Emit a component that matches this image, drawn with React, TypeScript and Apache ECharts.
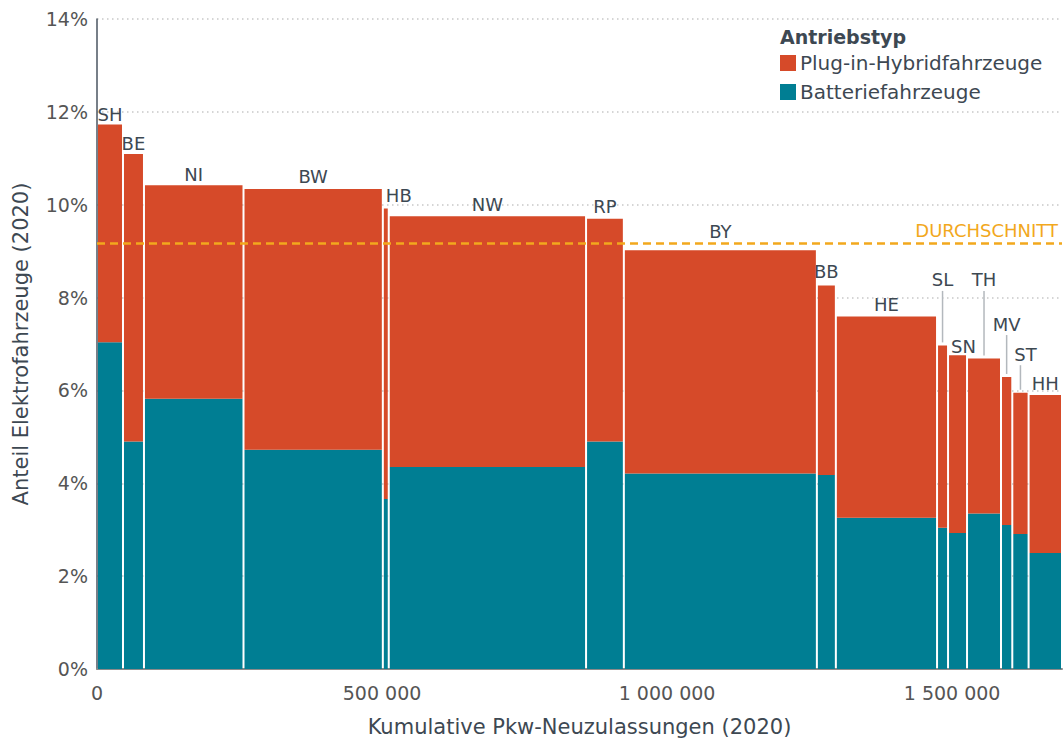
import React, { useEffect, useRef } from "react";
import * as echarts from "echarts";

// Bundesländer (abbreviations), in chart order
const states = ["SH", "BE", "NI", "BW", "HB", "NW", "RP", "BY", "BB", "HE", "SL", "SN", "TH", "MV", "ST", "HH"];
// Pkw-Neuzulassungen 2020 per state (bar widths)
const registrations = [45600, 36800, 174600, 244400, 10400, 346100, 66300, 338600, 33300, 177500, 19300, 33300, 59600, 19800, 28600, 58600];
// Share of battery electric vehicles (%)
const bevShare = [7.04, 4.9, 5.82, 4.72, 3.66, 4.35, 4.9, 4.21, 4.18, 3.26, 3.04, 2.93, 3.35, 3.1, 2.91, 2.5];
// Share of plug-in hybrids (%)
const phevShare = [4.69, 6.19, 4.6, 5.62, 6.26, 5.4, 4.8, 4.81, 4.08, 4.33, 3.93, 3.83, 3.34, 3.19, 3.04, 3.4];
// National average share of EVs (%)
const averageShare = 9.17;
const xTicks = [0, 500000, 1000000, 1500000];
const yTicks = [0, 2, 4, 6, 8, 10, 12, 14];

const ORANGE = "#D64A29";
const TEAL = "#007E93";
const YELLOW = "#F2A81D";
const TEXT = "#3D4852";
const FONT = '"DejaVu Sans", sans-serif';

// label placement tweaks (pixels)
const labelTweaks: Record<string, { dx?: number; dy?: number }> = {
  SH: { dy: 2 },
  BE: { dy: 1 },
  NI: { dy: 1 },
  HB: { dx: 13, dy: -1 },
  BY: { dy: -7 },
  BB: { dy: -2 },
  SN: { dx: 6, dy: 3 },
  ST: { dx: 5 },
};
// labels lifted with a leader line (label height in %)
const leaderLabels: Record<string, number> = { SL: 8.38, TH: 8.38, MV: 7.43, ST: 6.78 };

const starts: number[] = [];
let acc = 0;
registrations.forEach((r) => {
  starts.push(acc);
  acc += r;
});
const TOTAL = acc;

const fmtThousands = (v: number) => String(v).replace(/\B(?=(\d{3})+(?!\d))/g, " ");

export default function App() {
  const ref = useRef<HTMLDivElement>(null);
  useEffect(() => {
    document.body.style.margin = "0";
    const chart = echarts.init(ref.current!, null, { renderer: "svg" });

    const bevData = states.map((s, i) => [starts[i], starts[i] + registrations[i], 0, bevShare[i], i]);
    const phevData = states.map((s, i) => [
      starts[i],
      starts[i] + registrations[i],
      bevShare[i],
      bevShare[i] + phevShare[i],
      i,
    ]);

    const rectOf = (api: any) => {
      const p0 = api.coord([api.value(0), api.value(2)]);
      const p1 = api.coord([api.value(1), api.value(3)]);
      return { x: p0[0] + 1, y: p1[1], width: Math.max(p1[0] - p0[0] - 2, 1), height: p0[1] - p1[1], p0, p1 };
    };

    const option: any = {
      animation: false,
      textStyle: { fontFamily: FONT },
      grid: { left: 97, right: 2, top: 19, bottom: 69, containLabel: false },
      legend: {
        data: ["Plug-in-Hybridfahrzeuge", "Batteriefahrzeuge"],
        orient: "vertical",
        left: 780,
        top: 53,
        padding: 0,
        icon: "rect",
        itemWidth: 16,
        itemHeight: 16,
        itemGap: 9,
        selectedMode: false,
        textStyle: { fontSize: 20, lineHeight: 20, color: TEXT, fontFamily: FONT, padding: [0, 0, 0, -1] },
      },
      graphic: [
        {
          type: "text",
          left: 780,
          top: 27,
          style: { text: "Antriebstyp", fontSize: 19, fontWeight: "bold", fill: TEXT, fontFamily: FONT },
        },
      ],
      xAxis: {
        type: "value",
        min: 0,
        max: TOTAL,
        interval: 500000,
        name: "Kumulative Pkw-Neuzulassungen (2020)",
        nameLocation: "middle",
        nameGap: 47,
        nameTextStyle: { fontSize: 21, color: TEXT, fontFamily: FONT },
        axisLine: { show: true, lineStyle: { color: "#8A8A8A", width: 2 } },
        axisTick: { show: false },
        splitLine: { show: false },
        axisLabel: {
          fontSize: 19,
          color: "#555",
          margin: 14,
          customValues: xTicks,
          formatter: (v: number) => (xTicks.includes(v) ? fmtThousands(v) : ""),
        },
      },
      yAxis: {
        type: "value",
        min: 0,
        max: 14,
        interval: 2,
        name: "Anteil Elektrofahrzeuge (2020)",
        nameLocation: "middle",
        nameRotate: 90,
        nameGap: 66,
        nameTextStyle: { fontSize: 21, color: TEXT, fontFamily: FONT },
        axisLine: { show: true, lineStyle: { color: "#4A5560", width: 1.5 } },
        axisTick: { show: false },
        splitLine: { show: true, lineStyle: { color: "#C8C8C8", type: [1.5, 3.5], width: 1.5 } },
        axisLabel: {
          fontSize: 19,
          color: "#555",
          margin: 9,
          formatter: (v: number) => (yTicks.includes(v) ? v + "%" : ""),
        },
      },
      series: [
        {
          name: "Batteriefahrzeuge",
          type: "custom",
          itemStyle: { color: TEAL },
          encode: { x: [0, 1], y: [2, 3] },
          data: bevData,
          renderItem: (params: any, api: any) => {
            const r = rectOf(api);
            return {
              type: "rect",
              shape: { x: r.x, y: r.y, width: r.width, height: r.height },
              style: { fill: TEAL },
            };
          },
        },
        {
          name: "Plug-in-Hybridfahrzeuge",
          type: "custom",
          itemStyle: { color: ORANGE },
          encode: { x: [0, 1], y: [2, 3] },
          data: phevData,
          renderItem: (params: any, api: any) => {
            const r = rectOf(api);
            const name = states[api.value(4)];
            const cx = (r.p0[0] + r.p1[0]) / 2;
            const tw = labelTweaks[name] || {};
            const children: any[] = [
              {
                type: "rect",
                shape: { x: r.x, y: r.y, width: r.width, height: r.height },
                style: { fill: ORANGE },
              },
            ];
            const lead = leaderLabels[name];
            let ly: number;
            if (lead !== undefined) {
              ly = api.coord([0, lead])[1];
              children.push({
                type: "line",
                shape: { x1: cx, y1: ly + 11, x2: cx, y2: r.y - 3 },
                style: { stroke: "#B3B8BD", lineWidth: 1.5 },
              });
            } else {
              ly = r.y - 12 + (tw.dy || 0);
            }
            children.push({
              type: "text",
              x: cx + (tw.dx || 0),
              y: lead !== undefined ? ly + (tw.dy || 0) : ly,
              style: {
                text: name,
                fill: TEXT,
                fontSize: 18,
                fontFamily: FONT,
                align: "center",
                verticalAlign: "middle",
              },
            });
            return { type: "group", children };
          },
          markLine: {
            silent: true,
            symbol: ["none", "none"],
            lineStyle: { color: YELLOW, type: [8, 5], width: 2.5 },
            label: {
              show: true,
              position: "insideEndTop",
              formatter: "DURCHSCHNITT",
              color: YELLOW,
              fontSize: 18,
              fontFamily: FONT,
              distance: [4, 4],
            },
            data: [{ yAxis: averageShare }],
          },
        },
      ],
    };
    chart.setOption(option);
    return () => chart.dispose();
  }, []);
  return <div ref={ref} style={{ width: 1064, height: 742 }} />;
}
